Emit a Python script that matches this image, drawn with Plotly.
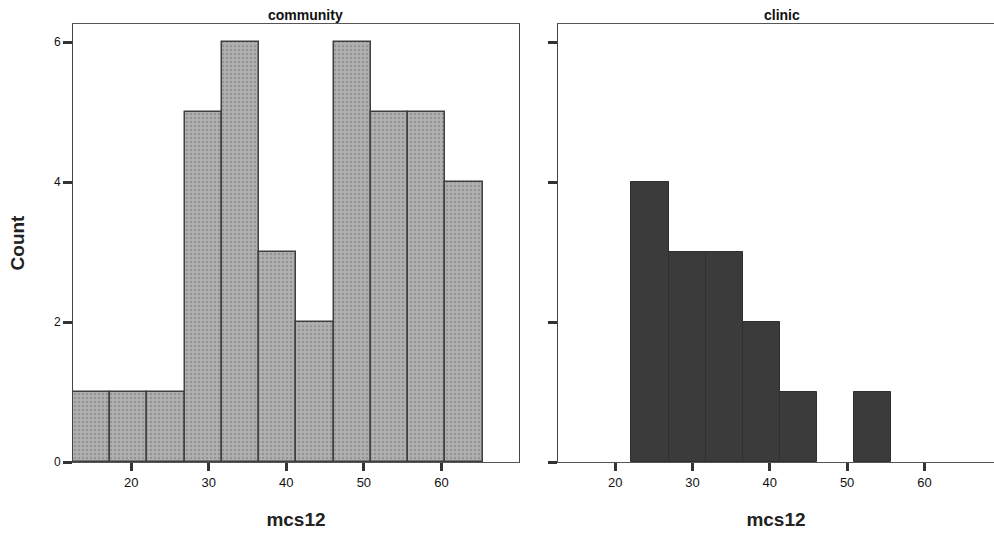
import plotly.graph_objects as go

# ---- data ----
bin_edges = [12.5, 17.3, 22.1, 26.9, 31.7, 36.5, 41.3, 46.1, 50.9, 55.7, 60.5, 65.3]
community_counts = [1, 1, 1, 5, 6, 3, 2, 6, 5, 5, 4]
clinic_counts = [0, 0, 4, 3, 3, 2, 1, 0, 1, 0, 0]
panel_titles = ["community", "clinic"]
x_ticks = [20, 30, 40, 50, 60]
y_ticks = [0, 2, 4, 6]

centers = [(a + b) / 2 for a, b in zip(bin_edges[:-1], bin_edges[1:])]
widths = [b - a for a, b in zip(bin_edges[:-1], bin_edges[1:])]

W, H = 994, 535
FONT = "Liberation Sans, Arial, sans-serif"

fig = go.Figure()
fig.add_trace(go.Bar(
    x=centers, y=community_counts, width=widths,
    marker=dict(color="#a3a3a3",
                line=dict(color="#3f3f3f", width=[1.5 if c > 0 else 0 for c in community_counts]),
                pattern=dict(shape=".", fgcolor="#777777", bgcolor="#b0b0b0",
                             size=4, solidity=0.3)),
    xaxis="x", yaxis="y", showlegend=False, hoverinfo="x+y"))
fig.add_trace(go.Bar(
    x=centers, y=clinic_counts, width=widths,
    marker=dict(color="#3b3b3b",
                line=dict(color="#2e2e2e", width=[1 if c > 0 else 0 for c in clinic_counts])),
    xaxis="x2", yaxis="y2", showlegend=False, hoverinfo="x+y"))

left_dom = [73 / W, 519 / W]
right_dom = [558 / W, 1.0]

common_x = dict(
    tickmode="array", tickvals=x_ticks, ticktext=[str(v) for v in x_ticks],
    ticks="outside", ticklen=8, tickwidth=3, tickcolor="#333333",
    showline=True, linecolor="#555555", linewidth=1, mirror=True,
    showgrid=False, zeroline=False,
    tickfont=dict(family=FONT, size=13, color="#111111"),
    title=dict(text="<b>mcs12</b>", font=dict(family=FONT, size=19, color="#222222"), standoff=24),
    range=[12.5, 70.0],
)
common_y = dict(
    range=[0, 6.26], tickmode="array", tickvals=y_ticks,
    ticks="outside", ticklen=9, tickwidth=3, tickcolor="#333333",
    showline=True, linecolor="#444444", linewidth=1,
    showgrid=False, zeroline=False,
    tickfont=dict(family=FONT, size=12, color="#111111"),
)

fig.update_layout(
    width=W, height=H,
    margin=dict(l=0, r=0, t=24, b=73),
    paper_bgcolor="white", plot_bgcolor="white",
    bargap=0,
    xaxis=dict(domain=left_dom, anchor="y", **common_x),
    yaxis=dict(domain=[0, 1], anchor="x", mirror=True,
               ticktext=[str(v) for v in y_ticks],
               title=dict(text="<b>Count</b>", font=dict(family=FONT, size=19, color="#222222"), standoff=24),
               **common_y),
    xaxis2=dict(domain=right_dom, anchor="y2", **{**common_x, "range": [12.6, 69.0]}),
    yaxis2=dict(domain=[0, 1], anchor="x2", mirror=False,
                ticktext=["" for v in y_ticks], **common_y),
    annotations=[
        dict(text="<b>" + panel_titles[0] + "</b>", x=305 / W, y=1.0, xref="paper", yref="paper",
             xanchor="center", yanchor="bottom", yshift=-1, showarrow=False,
             font=dict(family=FONT, size=14, color="#111111")),
        dict(text="<b>" + panel_titles[1] + "</b>", x=782 / W, y=1.0, xref="paper", yref="paper",
             xanchor="center", yanchor="bottom", yshift=-1, showarrow=False,
             font=dict(family=FONT, size=14, color="#111111")),
    ],
)

fig.write_html("out.html", config={"displayModeBar": False},
               post_script="document.body.style.margin='0';")
